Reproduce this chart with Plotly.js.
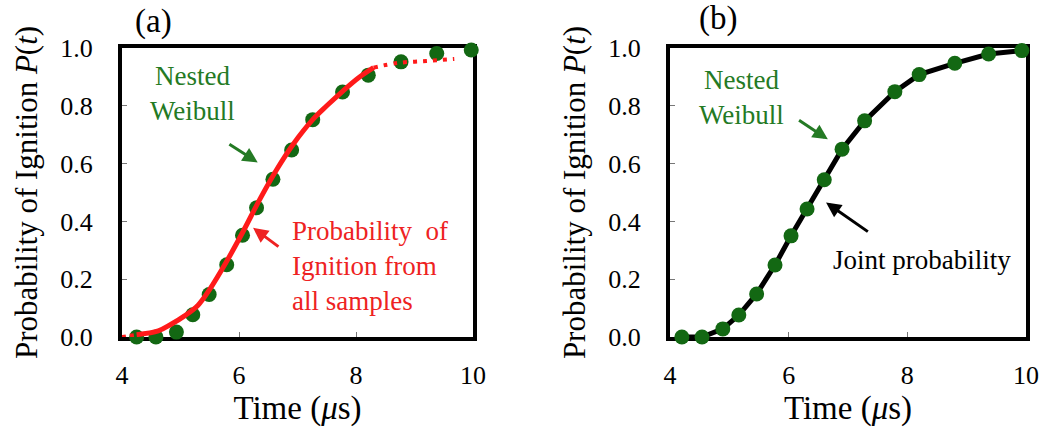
<!DOCTYPE html>
<html>
<head>
<meta charset="utf-8">
<script src="https://cdn.plot.ly/plotly-3.0.1.min.js"></script>
<style>html,body{margin:0;padding:0;background:#fff;}#chart{width:1046px;height:442px;}</style>
</head>
<body>
<div id="chart"></div>
<script>
// Panel (a): Nested Weibull points
const timeA = [4.25, 4.58, 4.93, 5.21, 5.49, 5.79, 6.06, 6.30, 6.58, 6.90, 7.26, 7.77, 8.21, 8.77, 9.38, 9.97];
const probA = [0.0, 0.0, 0.017, 0.077, 0.147, 0.25, 0.352, 0.447, 0.546, 0.647, 0.752, 0.848, 0.906, 0.952, 0.981, 0.993];
// Panel (a): Probability of ignition from all samples (red curve)
const redStartT = [4.00, 4.25];
const redStartP = [0.000, 0.008];
const redSolidT = [4.25, 4.62, 4.84, 5.07, 5.30, 5.50, 5.79, 6.07, 6.36, 6.64, 6.93, 7.26, 7.50, 7.78, 8.05, 8.30];
const redSolidP = [0.008, 0.021, 0.044, 0.073, 0.110, 0.165, 0.262, 0.365, 0.478, 0.578, 0.668, 0.752, 0.800, 0.852, 0.898, 0.932];
const redEndT = [8.30, 8.70, 9.20, 9.68];
const redEndP = [0.932, 0.948, 0.955, 0.962];
// Panel (b): Nested Weibull points + joint probability line
const timeB = [4.20, 4.54, 4.89, 5.16, 5.46, 5.77, 6.04, 6.31, 6.60, 6.90, 7.28, 7.79, 8.20, 8.80, 9.37, 9.93];
const probB = [0.0, 0.0, 0.028, 0.076, 0.149, 0.249, 0.35, 0.443, 0.544, 0.650, 0.748, 0.849, 0.908, 0.947, 0.979, 0.991];
// Tick labels
const xTicks = [4, 6, 8, 10];
const xTickText = ['4', '6', '8', '10'];
const yTicks = [0, 0.2, 0.4, 0.6, 0.8, 1.0];
const yTickText = ['0.0', '0.2', '0.4', '0.6', '0.8', '1.0'];

const FONT = 'Liberation Serif';
const GREEN = '#136813';
const GREEN_TXT = '#247a24';
const RED = '#ff1a1a';

const traces = [
  {x: timeA, y: probA, xaxis: 'x', yaxis: 'y', mode: 'markers', type: 'scatter', cliponaxis: false,
   marker: {size: 15, color: GREEN}, name: 'Nested Weibull (a)'},
  {x: redStartT, y: redStartP, xaxis: 'x', yaxis: 'y', mode: 'lines', type: 'scatter', cliponaxis: false,
   line: {color: RED, width: 4, dash: 'dot'}},
  {x: redSolidT, y: redSolidP, xaxis: 'x', yaxis: 'y', mode: 'lines', type: 'scatter', cliponaxis: false,
   line: {color: RED, width: 5, shape: 'spline'}},
  {x: redEndT, y: redEndP, xaxis: 'x', yaxis: 'y', mode: 'lines', type: 'scatter', cliponaxis: false,
   line: {color: RED, width: 4, dash: '4px,6px', shape: 'spline'}},
  {x: timeB, y: probB, xaxis: 'x2', yaxis: 'y2', mode: 'lines', type: 'scatter', cliponaxis: false,
   line: {color: '#000', width: 5}},
  {x: timeB, y: probB, xaxis: 'x2', yaxis: 'y2', mode: 'markers', type: 'scatter', cliponaxis: false,
   marker: {size: 15, color: GREEN}}
];

function xAxis(domain, anchor) {
  return {
    domain: domain, anchor: anchor, range: [4, 10], tickvals: xTicks, ticktext: xTickText,
    showgrid: false, zeroline: false, showline: true, linewidth: 4, linecolor: '#000', mirror: true,
    ticks: 'inside', ticklen: 5, tickwidth: 1, tickcolor: '#777', layer: 'below traces',
    ticklabelstandoff: 12, tickfont: {family: FONT, size: 26, color: '#000'},
    automargin: false, fixedrange: true,
    title: {text: 'Time (<i>μ</i>s)', font: {family: FONT, size: 33, color: '#000'}, standoff: 8}
  };
}
function yAxis(domain, anchor) {
  return {
    domain: domain, anchor: anchor, range: [0, 1], tickvals: yTicks, ticktext: yTickText,
    showgrid: false, zeroline: false, showline: true, linewidth: 4, linecolor: '#000', mirror: true,
    ticks: 'inside', ticklen: 5, tickwidth: 1, tickcolor: '#777', layer: 'below traces',
    ticklabelstandoff: 20, tickfont: {family: FONT, size: 26, color: '#000'},
    automargin: false, fixedrange: true,
    title: {text: 'Probability of Ignition <i>P</i>(<i>t</i>)', font: {family: FONT, size: 31, color: '#000'}, standoff: 14}
  };
}

const yDom = [1 - 337 / 442, 1 - 48 / 442];
const layout = {
  width: 1046, height: 442,
  margin: {l: 0, r: 0, t: 0, b: 0},
  paper_bgcolor: '#fff', plot_bgcolor: '#fff',
  showlegend: false,
  font: {family: FONT},
  xaxis: xAxis([122 / 1046, 473 / 1046], 'y'),
  yaxis: yAxis(yDom, 'x'),
  xaxis2: xAxis([670 / 1046, 1026 / 1046], 'y2'),
  yaxis2: yAxis(yDom, 'x2'),
  annotations: [
    {text: '(a)', xref: 'paper', yref: 'paper', x: 153 / 1046, y: 1 - 21 / 442, xanchor: 'center', yanchor: 'middle',
     showarrow: false, font: {family: FONT, size: 33, color: '#000'}},
    {text: '(b)', xref: 'paper', yref: 'paper', x: 718 / 1046, y: 1 - 19 / 442, xanchor: 'center', yanchor: 'middle',
     showarrow: false, font: {family: FONT, size: 33, color: '#000'}},
    // Panel (a)
    {text: 'Nested<br>Weibull', xref: 'x', yref: 'y', x: 5.20, y: 0.844, showarrow: false,
     font: {family: FONT, size: 27, color: GREEN_TXT}},
    {text: '', xref: 'x', yref: 'y', axref: 'x', ayref: 'y', x: 6.32, y: 0.604, ax: 5.81, ay: 0.670,
     showarrow: true, arrowhead: 2, arrowsize: 1, arrowwidth: 3, arrowcolor: GREEN_TXT},
    {text: 'Probability  of<br>Ignition from<br>all samples', xref: 'x', yref: 'y', x: 6.87, y: 0.247,
     xanchor: 'left', align: 'left', showarrow: false, font: {family: FONT, size: 27, color: '#ee2222'}},
    {text: '', xref: 'x', yref: 'y', axref: 'x', ayref: 'y', x: 6.24, y: 0.378, ax: 6.70, ay: 0.309,
     showarrow: true, arrowhead: 2, arrowsize: 1, arrowwidth: 3, arrowcolor: '#ee2222'},
    // Panel (b)
    {text: 'Nested<br>Weibull', xref: 'x2', yref: 'y2', x: 5.20, y: 0.83, showarrow: false,
     font: {family: FONT, size: 27, color: GREEN_TXT}},
    {text: '', xref: 'x2', yref: 'y2', axref: 'x2', ayref: 'y2', x: 6.66, y: 0.684, ax: 6.15, ay: 0.753,
     showarrow: true, arrowhead: 2, arrowsize: 1, arrowwidth: 3, arrowcolor: GREEN_TXT},
    {text: 'Joint probability', xref: 'x2', yref: 'y2', x: 8.24, y: 0.267, showarrow: false,
     font: {family: FONT, size: 27, color: '#000'}},
    {text: '', xref: 'x2', yref: 'y2', axref: 'x2', ayref: 'y2', x: 6.63, y: 0.465, ax: 7.36, ay: 0.361,
     showarrow: true, arrowhead: 2, arrowsize: 1, arrowwidth: 3, arrowcolor: '#000'}
  ]
};

Plotly.newPlot('chart', traces, layout, {staticPlot: true, displayModeBar: false});
</script>
</body>
</html>
